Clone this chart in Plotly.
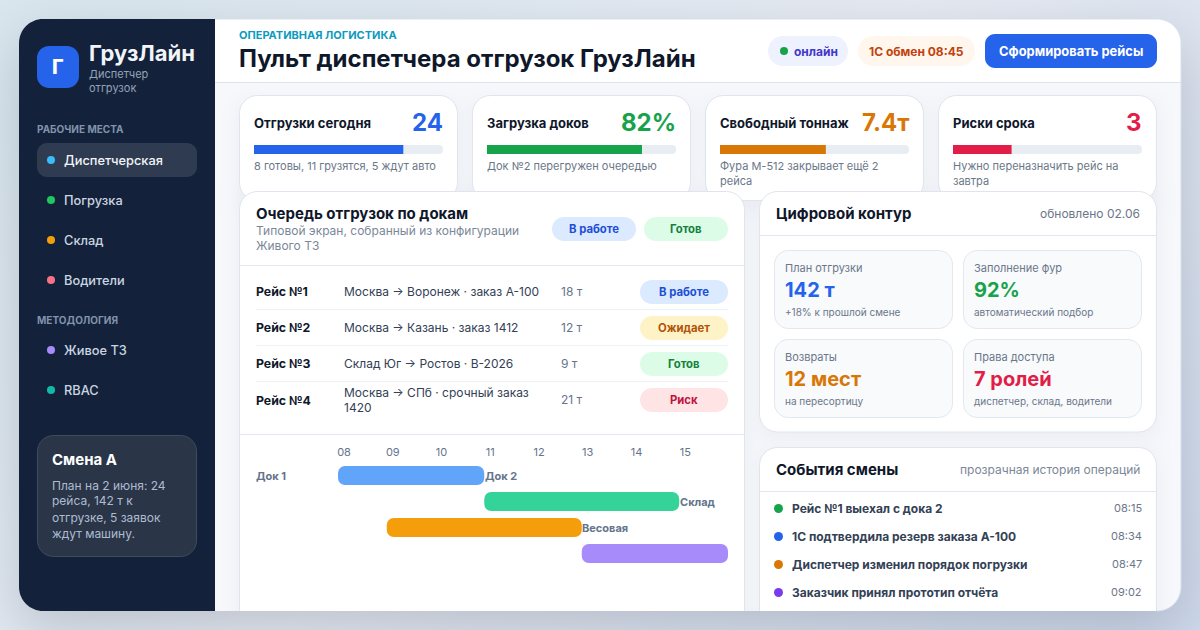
import base64, math, struct, zlib
import numpy as np
import plotly.graph_objects as go

W, H = 1200, 630
FONT = "Inter"

# ---------- data ----------
nav_work = ["Диспетчерская", "Погрузка", "Склад", "Водители"]
nav_method = ["Живое ТЗ", "RBAC"]
nav_work_colors = ["#38bdf8", "#22c55e", "#f59e0b", "#fb7185"]
nav_method_colors = ["#a78bfa", "#14b8a6"]
shift_lines = ["План на 2 июня: 24", "рейса, 142 т к", "отгрузке, 5 заявок", "ждут машину."]

kpi_titles = ["Отгрузки сегодня", "Загрузка доков", "Свободный тоннаж", "Риски срока"]
kpi_values = ["24", "82%", "7.4т", "3"]
kpi_fill = [79, 82, 56, 31]
kpi_colors = ["#2563eb", "#16a34a", "#d97706", "#e11d48"]
kpi_notes = [["8 готовы, 11 грузятся, 5 ждут авто"],
             ["Док №2 перегружен очередью"],
             ["Фура М-512 закрывает ещё 2", "рейса"],
             ["Нужно переназначить рейс на", "завтра"]]

trips = ["Рейс №1", "Рейс №2", "Рейс №3", "Рейс №4"]
routes = [["Москва → Воронеж · заказ А-100"], ["Москва → Казань · заказ 1412"],
          ["Склад Юг → Ростов · В-2026"], ["Москва → СПб · срочный заказ", "1420"]]
tons = ["18 т", "12 т", "9 т", "21 т"]
statuses = ["В работе", "Ожидает", "Готов", "Риск"]

gantt_rows = ["Док 1", "Док 2", "Склад", "Весовая"]
gantt_start = [8, 11, 9, 13]
gantt_hours = [3, 4, 4, 3]
gantt_colors = ["#60a5fa", "#34d399", "#f59e0b", "#a78bfa"]
hour_ticks = [8, 9, 10, 11, 12, 13, 14, 15]
hour_labels = ["08", "09", "10", "11", "12", "13", "14", "15"]

metric_labels = ["План отгрузки", "Заполнение фур", "Возвраты", "Права доступа"]
metric_values = ["142 т", "92%", "12 мест", "7 ролей"]
metric_notes = ["+18% к прошлой смене", "автоматический подбор", "на пересортицу", "диспетчер, склад, водители"]
metric_colors = ["#2563eb", "#16a34a", "#d97706", "#e11d48"]

events = ["Рейс №1 выехал с дока 2", "1С подтвердила резерв заказа А-100",
          "Диспетчер изменил порядок погрузки", "Заказчик принял прототип отчёта"]
event_times = ["08:15", "08:34", "08:47", "09:02"]
event_colors = ["#16a34a", "#2563eb", "#d97706", "#7c3aed"]

status_style = {"В работе": ("#dbeafe", "#1d4ed8"), "Ожидает": ("#fef3c7", "#b45309"),
                "Готов": ("#dcfce7", "#15803d"), "Риск": ("#ffe4e6", "#be123c")}


# ---------- background picture (page gradient and soft shadows only) ----------
def hex_rgb(c):
    return np.array([int(c[i:i + 2], 16) for i in (1, 3, 5)], dtype=float)


def erf(a):
    return np.array([math.erf(v) for v in a])


def box_shadow(x0, y0, x1, y1, s):
    xs = np.arange(W) + .5
    ys = np.arange(H) + .5
    fx = .5 * (erf((xs - x0) / (s * 2 ** .5)) - erf((xs - x1) / (s * 2 ** .5)))
    fy = .5 * (erf((ys - y0) / (s * 2 ** .5)) - erf((ys - y1) / (s * 2 ** .5)))
    return np.outer(fy, fx)


def rr_mask(x0, y0, x1, y1, r):
    yy, xx = np.mgrid[0:H, 0:W] + .5
    cx, cy = (x0 + x1) / 2, (y0 + y1) / 2
    qx = np.abs(xx - cx) - (x1 - x0) / 2 + r
    qy = np.abs(yy - cy) - (y1 - y0) / 2 + r
    d = np.hypot(np.maximum(qx, 0), np.maximum(qy, 0)) + np.minimum(np.maximum(qx, qy), 0) - r
    return np.clip(.5 - d, 0, 1)


def background_png():
    yy, xx = np.mgrid[0:H, 0:W] + .5
    a = math.radians(135)
    sx, sy = math.sin(a), -math.cos(a)
    L = abs(W * sx) + abs(H * sy)
    t = ((xx - W / 2) * sx + (yy - H / 2) * sy) / L + .5
    stops = [hex_rgb("#d9e7ef"), hex_rgb("#e7ebf3"), hex_rgb("#cfdaec")]
    img = np.stack([np.interp(t, [0, .5, 1], [s[i] for s in stops]) for i in range(3)], axis=2)
    ink = hex_rgb("#0f172a")
    sh = box_shadow(19, 39, 1181, 631, 30)[..., None] * .2
    img = img * (1 - sh) + ink * sh
    m = rr_mask(19, 19, 1181, 611, 24)[..., None]
    img = img * (1 - m) + hex_rgb("#f6f8fc") * m
    clip = m[..., 0]
    for (x0, y0, x1, y1) in [(239, 96, 458, 200), (472, 96, 691, 200), (706, 96, 924, 200), (939, 96, 1157, 200),
                             (239, 191, 745, 640), (760, 191, 1157, 432), (760, 447, 1157, 640)]:
        s2 = (box_shadow(x0, y0 + 6, x1, y1 + 6, 10) * .05 * clip)[..., None]
        img = img * (1 - s2) + ink * s2
    raw = np.clip(img + .5, 0, 255).astype(np.uint8)
    body = b"".join(b"\x00" + raw[r].tobytes() for r in range(H))

    def chunk(tag, data):
        return struct.pack(">I", len(data)) + tag + data + struct.pack(">I", zlib.crc32(tag + data))

    png = b"\x89PNG\r\n\x1a\n" + chunk(b"IHDR", struct.pack(">IIBBBBB", W, H, 8, 2, 0, 0, 0)) \
        + chunk(b"IDAT", zlib.compress(body, 9)) + chunk(b"IEND", b"")
    return "data:image/png;base64," + base64.b64encode(png).decode()


# ---------- helpers (pixel positions on the 1200x630 page → paper) ----------
def X(v):
    return v / W


def Y(v):
    return 1 - v / H


shapes, notes = [], []


def rrect(x0, y0, x1, y1, r, fill, line=None, corners="tl tr br bl"):
    """rounded rectangle path; a corner not listed stays square"""
    k = r * .4477
    c = corners.split()
    p = []
    if "tl" in c:
        p.append(f"M{X(x0)},{Y(y0 + r)} C{X(x0)},{Y(y0 + k)} {X(x0 + k)},{Y(y0)} {X(x0 + r)},{Y(y0)}")
    else:
        p.append(f"M{X(x0)},{Y(y0)}")
    if "tr" in c:
        p.append(f"L{X(x1 - r)},{Y(y0)} C{X(x1 - k)},{Y(y0)} {X(x1)},{Y(y0 + k)} {X(x1)},{Y(y0 + r)}")
    else:
        p.append(f"L{X(x1)},{Y(y0)}")
    if "br" in c:
        p.append(f"L{X(x1)},{Y(y1 - r)} C{X(x1)},{Y(y1 - k)} {X(x1 - k)},{Y(y1)} {X(x1 - r)},{Y(y1)}")
    else:
        p.append(f"L{X(x1)},{Y(y1)}")
    if "bl" in c:
        p.append(f"L{X(x0 + r)},{Y(y1)} C{X(x0 + k)},{Y(y1)} {X(x0)},{Y(y1 - k)} {X(x0)},{Y(y1 - r)}")
    else:
        p.append(f"L{X(x0)},{Y(y1)}")
    shapes.append(dict(type="path", xref="paper", yref="paper", layer="below", path=" ".join(p) + " Z",
                       fillcolor=fill, line=dict(color=line or "rgba(0,0,0,0)", width=1 if line else 0)))


def top_panel(x0, y0, x1, y1, r, fill, line):
    """panel cut off by the window: rounded top, border on three sides only"""
    rrect(x0, y0, x1, y1, r, fill, None, corners="tl tr")
    k = r * .4477
    path = (f"M{X(x0)},{Y(y1)} L{X(x0)},{Y(y0 + r)} C{X(x0)},{Y(y0 + k)} {X(x0 + k)},{Y(y0)} {X(x0 + r)},{Y(y0)} "
            f"L{X(x1 - r)},{Y(y0)} C{X(x1 - k)},{Y(y0)} {X(x1)},{Y(y0 + k)} {X(x1)},{Y(y0 + r)} L{X(x1)},{Y(y1)}")
    shapes.append(dict(type="path", xref="paper", yref="paper", layer="below", path=path,
                       fillcolor="rgba(0,0,0,0)", line=dict(color=line, width=1)))


def hline(x0, x1, y, color="#e2e8f0"):
    shapes.append(dict(type="line", xref="paper", yref="paper", layer="below", x0=X(x0), x1=X(x1), y0=Y(y), y1=Y(y),
                       line=dict(color=color, width=1)))


def dot(x, y, r, color):
    shapes.append(dict(type="circle", xref="paper", yref="paper", layer="below", x0=X(x - r), x1=X(x + r),
                       y0=Y(y - r), y1=Y(y + r), fillcolor=color, line=dict(width=0)))


def text(x, y, s, size, color, weight=400, anchor="left"):
    notes.append(dict(xref="paper", yref="paper", x=X(x), y=Y(y), text=s, showarrow=False, xanchor=anchor,
                      yanchor="middle", align=anchor, borderpad=0, borderwidth=0,
                      font=dict(family=FONT, size=size, color=color, weight=weight)))


def pill(x0, x1, yc, h, label, fill, ink, size=11.3):
    rrect(x0, yc - h / 2, x1, yc + h / 2, h / 2, fill)
    text((x0 + x1) / 2, yc, label, size, ink, 700, "center")


# ---------- sidebar ----------
rrect(19, 19, 215, 611, 24, "#13223a", corners="tl bl")
rrect(37, 46, 79, 88, 12, "#2563eb")
text(58, 67, "Г", 20, "#ffffff", 800, "center")
text(89, 52.5, "ГрузЛайн", 22, "#f1f5f9", 700)
text(89, 74, "Диспетчер", 11, "#94a3b8")
text(89, 88, "отгрузок", 11, "#94a3b8")
text(37, 129.5, "РАБОЧИЕ МЕСТА", 10, "#8193ab", 700)
rrect(37, 143, 197, 177, 10, "#2f3b50")
for i, (lab, col) in enumerate(zip(nav_work, nav_work_colors)):
    y = 160 + 40 * i
    dot(51, y, 4, col)
    text(64, y, lab, 12.8, "#f1f5f9" if i == 0 else "#cbd5e1", 500)
text(37, 319.5, "МЕТОДОЛОГИЯ", 10, "#8193ab", 700)
for i, (lab, col) in enumerate(zip(nav_method, nav_method_colors)):
    y = 350 + 40 * i
    dot(51, y, 4, col)
    text(64, y, lab, 12.8, "#cbd5e1", 500)
rrect(37.5, 435.5, 196.5, 556.5, 16, "#2a3548", "#3f4b5f")
text(52, 459.5, "Смена А", 15, "#ffffff", 700)
for i, ln in enumerate(shift_lines):
    text(52, 485 + 16 * i, ln, 12, "#aebcd0")

# ---------- header ----------
rrect(215, 19, 1181, 82, 24, "#ffffff", corners="tr")
hline(215, 1181, 82.5, "#dde3ec")
text(239, 34.5, "ОПЕРАТИВНАЯ ЛОГИСТИКА", 11, "#0e9ac0", 700)
text(239, 58.5, "Пульт диспетчера отгрузок ГрузЛайн", 24, "#0f172a", 700)
rrect(768, 36, 848, 66, 15, "#eef2ff")
dot(784, 51, 4, "#16a34a")
text(794, 51, "онлайн", 12, "#4338ca", 700)
pill(858, 975, 51, 30, "1С обмен 08:45", "#fff7ed", "#c2410c", 12)
rrect(985, 34, 1157, 68, 10, "#2563eb")
text(1071, 51, "Сформировать рейсы", 12.9, "#ffffff", 700, "center")

# ---------- KPI cards ----------
kpi_x = [(239.5, 457.5), (472.5, 690.5), (705.5, 923.5), (938.5, 1156.5)]
for (x0, x1), ttl, val, col, lines in zip(kpi_x, kpi_titles, kpi_values, kpi_colors, kpi_notes):
    rrect(x0, 95.5, x1, 200.5, 18, "#ffffff", "#dfe5ee")
    text(x0 + 14.5, 123.5, ttl, 13, "#0f172a", 700)
    text(x1 - 14.5, 122.5, val, 24, col, 700, "right")
    for j, ln in enumerate(lines):
        text(x0 + 14.5, 166.5 + 14 * j, ln, 11, "#6b7789")

# ---------- left panel ----------
top_panel(239.5, 191.5, 744.5, 611, 18, "#ffffff", "#dfe5ee")
text(256, 213.5, "Очередь отгрузок по докам", 15, "#0f172a", 700)
text(256, 230.5, "Типовой экран, собранный из конфигурации", 12, "#7b8798")
text(256, 245.5, "Живого ТЗ", 12, "#7b8798")
pill(552, 636, 229, 24, "В работе", *status_style["В работе"])
pill(644, 728, 229, 24, "Готов", *status_style["Готов"])
hline(240, 744, 265.5)
for i, (trip, route, ton, st) in enumerate(zip(trips, routes, tons, statuses)):
    yc = 292 + 36 * i
    text(256, yc - .5 + (1 if i == 3 else 0), trip, 12.3, "#0f172a", 700)
    if len(route) == 1:
        text(344, yc - .5, route[0], 12, "#334155")
    else:
        text(344, yc - 8, route[0], 12, "#334155")
        text(344, yc + 7.5, route[1], 12, "#334155")
    text(561, yc - .5, ton, 12, "#64748b")
    pill(640, 728, yc, 24, st, *status_style[st])
    if i < 3:
        hline(256, 728, yc + 17.5, "#eef1f6")
hline(240, 744, 434.5)

gantt_label_x = [256, 485, 680, 582]
gantt_label_y = [476, 476, 502, 528]
for lab, lx, ly in zip(gantt_rows, gantt_label_x, gantt_label_y):
    text(lx, ly, lab, 11, "#64748b", 700)

# ---------- right panels ----------
rrect(759.5, 191.5, 1156.5, 432, 18, "#ffffff", "#dfe5ee")
text(776, 213.5, "Цифровой контур", 15, "#0f172a", 700)
text(1140, 213.5, "обновлено 02.06", 12, "#6b7789", 400, "right")
hline(760, 1156, 235.5)
cells = [(774.5, 250.5), (963.5, 250.5), (774.5, 339.5), (963.5, 339.5)]
for (cx, cy), lab, val, note, col in zip(cells, metric_labels, metric_values, metric_notes, metric_colors):
    rrect(cx, cy, cx + 178, cy + 78, 14, "#f8fafc", "#e2e8f0")
    text(cx + 10.5, cy + 17.5, lab, 11, "#6b7789")
    text(cx + 10.5, cy + 39.5, val, 20, col, 700)
    text(cx + 10.5, cy + 61.5, note, 10, "#6b7789")

top_panel(759.5, 447.5, 1156.5, 611, 18, "#ffffff", "#dfe5ee")
text(776, 469.5, "События смены", 15, "#0f172a", 700)
text(1140, 469.5, "прозрачная история операций", 12, "#7b8798", 400, "right")
hline(760, 1156, 491.5)
for i, (ev, tm, col) in enumerate(zip(events, event_times, event_colors)):
    yc = 508.5 + 28 * i
    dot(778.5, yc, 4.5, col)
    text(792, yc, ev, 12, "#334155", 700)
    text(1142, yc - .5, tm, 11, "#6b7789", 400, "right")

# faint window outline on the lit top/right edge
_r, _k = 24, 24 * .4477
shapes.append(dict(type="path", xref="paper", yref="paper", layer="below",
                   path=(f"M{X(215)},{Y(19)} L{X(1181 - _r)},{Y(19)} C{X(1181 - _k)},{Y(19)} {X(1181)},{Y(19 + _k)} "
                         f"{X(1181)},{Y(19 + _r)} L{X(1181)},{Y(611 - _r)} C{X(1181)},{Y(611 - _k)} "
                         f"{X(1181 - _k)},{Y(611)} {X(1181 - _r)},{Y(611)}"),
                   fillcolor="rgba(0,0,0,0)", line=dict(color="#d8dfe9", width=1)))

# ---------- marks ----------
fig = go.Figure()
fig.add_trace(go.Bar(y=gantt_rows, x=gantt_hours, base=gantt_start, orientation="h", width=19 / 26,
                     marker=dict(color=gantt_colors, cornerradius=7, line=dict(width=0)),
                     hoverinfo="skip", showlegend=False))
layout_axes = dict(
    xaxis=dict(domain=[X(338), X(728)], range=[8, 16], side="top", anchor="y", tickvals=hour_ticks,
               ticktext=hour_labels, ticks="", showgrid=False, zeroline=False, showline=False, ticklabelshift=6,
               ticklabelstandoff=3, tickfont=dict(family=FONT, size=11, color="#64748b")),
    yaxis=dict(domain=[Y(566.5), Y(462.5)], categoryorder="array", categoryarray=gantt_rows, autorange="reversed",
               visible=False),
)
for i, (val, col, (x0, x1)) in enumerate(zip(kpi_fill, kpi_colors, kpi_x)):
    n = i + 2
    xa, ya = f"x{n}", f"y{n}"
    left, right = x0 + 14.5, x1 - 14.5
    fig.add_trace(go.Bar(y=[kpi_titles[i]], x=[100], orientation="h", width=1, xaxis=xa, yaxis=ya,
                         marker=dict(color="#e8edf3", cornerradius=4.5, line=dict(width=0)),
                         hoverinfo="skip", showlegend=False))
    fig.add_trace(go.Bar(y=[kpi_titles[i]], x=[val], orientation="h", width=1, xaxis=xa, yaxis=ya,
                         marker=dict(color=col, cornerradius=4.5, line=dict(width=0)),
                         hoverinfo="skip", showlegend=False))
    layout_axes[f"xaxis{n}"] = dict(domain=[X(left), X(right)], range=[0, 100], visible=False, anchor=ya)
    layout_axes[f"yaxis{n}"] = dict(domain=[Y(154), Y(145)], visible=False, anchor=xa)

fig.update_layout(
    width=W, height=H, autosize=False, margin=dict(l=0, r=0, t=0, b=0, pad=0),
    paper_bgcolor="#e4e9f1", plot_bgcolor="rgba(0,0,0,0)", barmode="overlay", showlegend=False,
    font=dict(family=FONT), shapes=shapes, annotations=notes,
    images=[dict(source=background_png(), xref="paper", yref="paper", x=0, y=1, sizex=1, sizey=1,
                 xanchor="left", yanchor="top", sizing="stretch", layer="below")],
    **layout_axes,
)

fig.write_html("out.html", config={"displayModeBar": False},
               post_script="document.body.style.margin='0';document.body.style.overflow='hidden';")
